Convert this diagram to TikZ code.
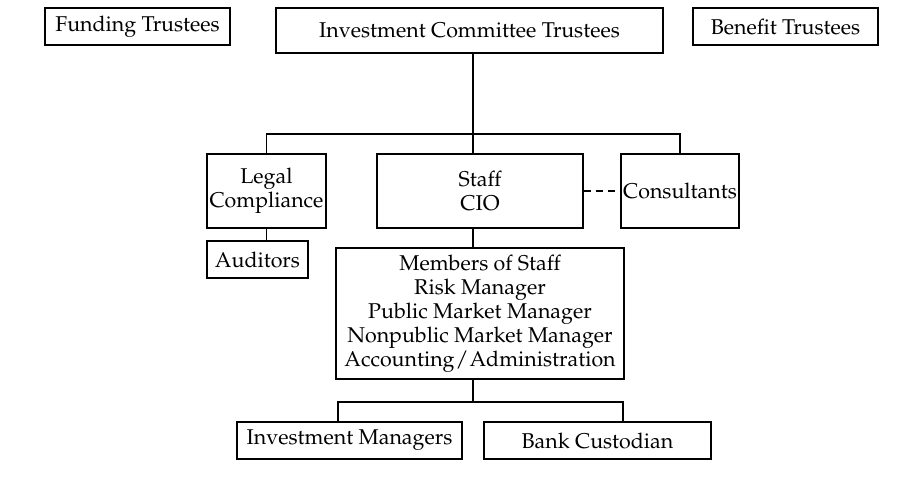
\documentclass[tikz,border=0pt]{standalone}
\usepackage[T1]{fontenc}
\usepackage{mathpazo}
\begin{document}
\begin{tikzpicture}
  [x=0.5pt,y=-0.5pt,line width=0.6pt,
   every node/.style={draw,rectangle,align=center,inner sep=1pt,font=\fontsize{10.7}{12}\selectfont\rmfamily}]
  \useasboundingbox (0,0) rectangle (918,479);
  \node (fund)[minimum width=92.5pt,minimum height=18.5pt] at (137.5,26.5) {Funding Trustees};
  \node (icom)[minimum width=193.5pt,minimum height=22.5pt] at (469.5,30.5) {Investment Committee Trustees};
  \node (ben)[minimum width=92.5pt,minimum height=18.5pt] at (785.5,26.5) {Benefit Trustees};
  \node (legal)[minimum width=59.5pt,minimum height=37pt] at (266.5,191) {Legal\\Compliance};
  \node (staff)[minimum width=103pt,minimum height=37pt] at (480,191) {Staff\\CIO};
  \node (cons)[minimum width=59pt,minimum height=37pt] at (680,191) {Consultants};
  \node (aud)[minimum width=50.5pt,minimum height=18.5pt] at (257.5,259.5) {Auditors};
  \node (memb)[minimum width=144pt,minimum height=65.5pt] at (480,313.5)
    {Members of Staff\\Risk Manager\\Public Market Manager\\Nonpublic Market Manager\\Accounting\kern.5pt/\kern.5pt Administration};
  \node (invm)[minimum width=112.5pt,minimum height=18.5pt] at (349.5,440.5) {Investment Managers};
  \node (bank)[minimum width=113.5pt,minimum height=18.5pt] at (597.5,440.5) {Bank Custodian};
  % junctions
  \coordinate (t1) at (473,134);
  \coordinate (t2) at (473,402);
  \coordinate (b1) at (338,402);
  \coordinate (b2) at (623,402);
  \draw (icom.south -| t1) -- (staff.north -| t1);
  \draw (legal.north) |- (t1) -| (cons.north);
  \draw[dash pattern=on 3.5pt off 2.5pt] (staff.east) -- (cons.west);
  \draw (legal.south) -- (legal.south |- aud.north);
  \draw (staff.south -| t1) -- (memb.north -| t1);
  \draw (memb.south -| t2) -- (t2);
  \draw (invm.north -| b1) |- (b2) -- (bank.north -| b2);
\end{tikzpicture}
\end{document}
